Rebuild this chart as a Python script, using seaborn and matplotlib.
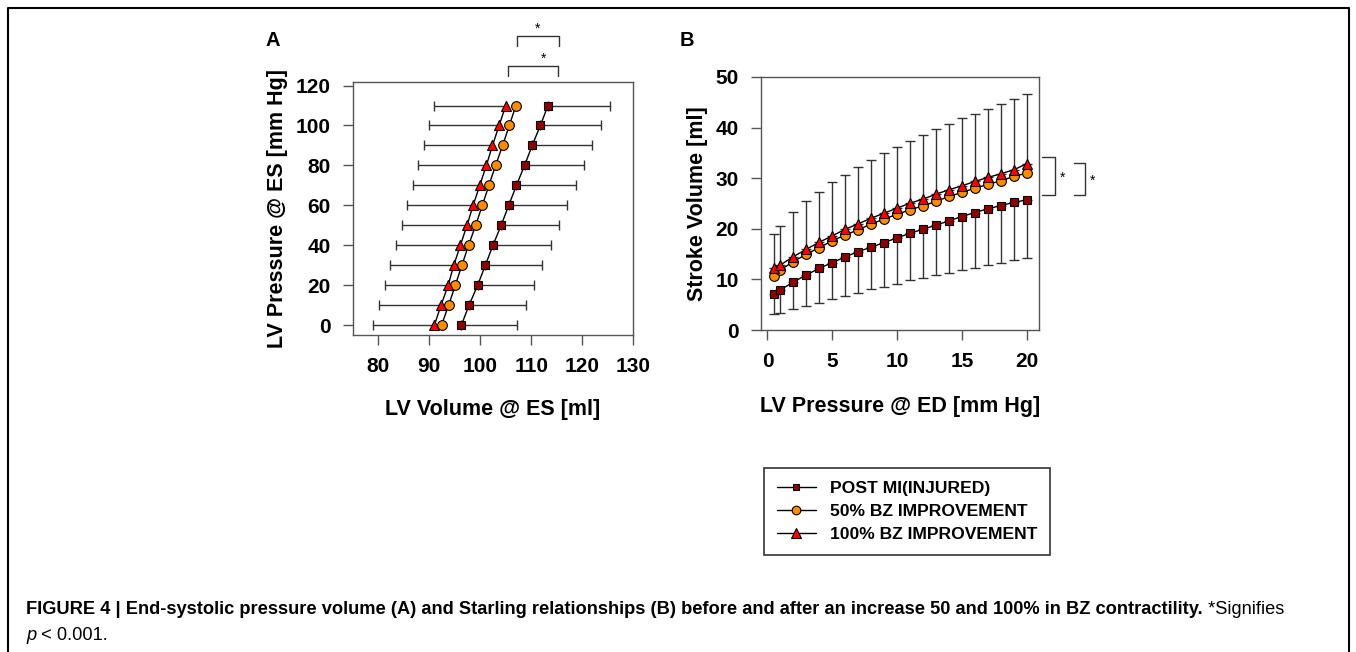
"""End-systolic pressure-volume and Starling relationships, post MI vs BZ improvement."""

import matplotlib

matplotlib.use("Agg")
import matplotlib.pyplot as plt
import pandas as pd
import seaborn as sns
from matplotlib.lines import Line2D

# Panel A data: LV volume at end-systole for each pressure level
pressure_es = [0, 10, 20, 30, 40, 50, 60, 70, 80, 90, 100, 110]
vol_post_mi = [96.3, 97.8, 99.5, 101.0, 102.5, 104.1, 105.6, 107.1, 108.7, 110.2, 111.8, 113.3]
vol_post_mi_sd = [11.0, 11.1, 11.0, 11.2, 11.4, 11.4, 11.5, 11.7, 11.7, 11.8, 11.9, 12.1]
vol_bz50 = [92.4, 93.8, 95.1, 96.4, 97.7, 99.1, 100.4, 101.7, 103.0, 104.4, 105.7, 107.0]
vol_bz100 = [91.0, 92.3, 93.7, 94.8, 96.1, 97.4, 98.6, 99.9, 101.2, 102.4, 103.7, 105.0]
vol_bz100_sd = [12.0, 12.2, 12.5, 12.5, 12.7, 12.8, 13.0, 13.2, 13.4, 13.5, 13.7, 14.0]

# Panel B data: stroke volume vs end-diastolic pressure
pressure_ed = [0.5, 1, 2, 3, 4, 5, 6, 7, 8, 9, 10, 11, 12, 13, 14, 15, 16, 17, 18, 19, 20]
sv_post_mi = [7.06, 7.92, 9.5, 10.88, 12.2, 13.32, 14.45, 15.5, 16.36, 17.28, 18.2,
              19.13, 19.92, 20.71, 21.57, 22.43, 23.22, 23.94, 24.6, 25.2, 25.73]
sv_post_mi_sd = [3.89, 4.62, 5.41, 6.06, 6.79, 7.25, 7.72, 8.18, 8.31, 8.70, 9.03,
                 9.30, 9.63, 9.89, 10.22, 10.56, 10.88, 11.08, 11.28, 11.35, 11.48]
sv_bz50 = [10.69, 11.87, 13.52, 14.97, 16.29, 17.61, 18.8, 19.79, 20.98, 21.9, 22.89,
           23.75, 24.54, 25.4, 26.39, 27.18, 28.03, 28.76, 29.49, 30.34, 31.0]
sv_bz100 = [12.2, 12.86, 14.5, 15.96, 17.35, 18.6, 19.92, 20.98, 22.1, 23.09, 24.08,
            25.07, 25.86, 26.85, 27.7, 28.5, 29.35, 30.15, 30.87, 31.66, 32.85]
sv_bz100_sd = [6.86, 7.79, 8.78, 9.57, 10.02, 10.56, 10.75, 11.21, 11.48, 11.80, 12.07,
               12.27, 12.66, 12.86, 13.0, 13.32, 13.39, 13.58, 13.85, 13.99, 13.72]

groups = ["POST MI(INJURED)", "50% BZ IMPROVEMENT", "100% BZ IMPROVEMENT"]
group_markers = {groups[0]: "s", groups[1]: "o", groups[2]: "^"}
group_colors = {groups[0]: "#8B0000", groups[1]: "#FF8C00", groups[2]: "#FF0000"}
group_msize = {groups[0]: 5.6, groups[1]: 7.0, groups[2]: 7.4}

caption_bold = ("FIGURE 4 | End-systolic pressure volume (A) and Starling relationships (B) "
                "before and after an increase 50 and 100% in BZ contractility.")

# Long-form tables
df_a = pd.concat([
    pd.DataFrame({"volume": vol_post_mi, "pressure": pressure_es, "group": groups[0]}),
    pd.DataFrame({"volume": vol_bz50, "pressure": pressure_es, "group": groups[1]}),
    pd.DataFrame({"volume": vol_bz100, "pressure": pressure_es, "group": groups[2]}),
])
df_b = pd.concat([
    pd.DataFrame({"ped": pressure_ed, "sv": sv_post_mi, "group": groups[0]}),
    pd.DataFrame({"ped": pressure_ed, "sv": sv_bz50, "group": groups[1]}),
    pd.DataFrame({"ped": pressure_ed, "sv": sv_bz100, "group": groups[2]}),
])

sns.set_style("white")
plt.rcParams["font.family"] = ["Liberation Sans", "DejaVu Sans"]
plt.rcParams["text.color"] = "black"
plt.rcParams["axes.labelcolor"] = "black"
plt.rcParams["xtick.color"] = "black"
plt.rcParams["ytick.color"] = "black"

W, H = 1356, 652
fig = plt.figure(figsize=(W / 100, H / 100), dpi=100)


def px_axes(left, top, right, bottom):
    return fig.add_axes([left / W, 1 - bottom / H, (right - left) / W, (bottom - top) / H])


ax_a = px_axes(353, 82, 633, 335)
ax_b = px_axes(761, 77, 1039, 330)

err_kw = dict(fmt="none", ecolor="#333333", elinewidth=1.0, capsize=3.3, capthick=1.0, zorder=1)

# Panel A error bars (one-sided)
ax_a.errorbar(vol_post_mi, pressure_es, xerr=[[0] * len(vol_post_mi), vol_post_mi_sd], **err_kw)
ax_a.errorbar(vol_bz100, pressure_es, xerr=[vol_bz100_sd, [0] * len(vol_bz100)], **err_kw)

# Panel B error bars (one-sided)
ax_b.errorbar(pressure_ed, sv_bz100, yerr=[[0] * len(sv_bz100), sv_bz100_sd], **err_kw)
ax_b.errorbar(pressure_ed, sv_post_mi, yerr=[sv_post_mi_sd, [0] * len(sv_post_mi)], **err_kw)

for g in groups:
    sub = df_a[df_a["group"] == g]
    sns.lineplot(data=sub, x="volume", y="pressure", ax=ax_a, sort=False, errorbar=None,
                 color="black", linewidth=1.0, marker=group_markers[g],
                 markersize=group_msize[g], markerfacecolor=group_colors[g],
                 markeredgecolor="black", markeredgewidth=0.8, legend=False, zorder=3)
    sub = df_b[df_b["group"] == g]
    sns.lineplot(data=sub, x="ped", y="sv", ax=ax_b, sort=False, errorbar=None,
                 color="black", linewidth=1.0, marker=group_markers[g],
                 markersize=group_msize[g], markerfacecolor=group_colors[g],
                 markeredgecolor="black", markeredgewidth=0.8, legend=False, zorder=3)

# Axes styling
ax_a.set_xlim(75, 130)
ax_a.set_ylim(-5, 121.8)
ax_a.set_xticks([80, 90, 100, 110, 120, 130])
ax_a.set_yticks([0, 20, 40, 60, 80, 100, 120])
ax_b.set_xlim(-0.5, 20.95)
ax_b.set_ylim(0, 50)
ax_b.set_xticks([0, 5, 10, 15, 20])
ax_b.set_yticks([0, 10, 20, 30, 40, 50])

for ax in (ax_a, ax_b):
    for sp in ax.spines.values():
        sp.set_visible(True)
        sp.set_color("#555555")
        sp.set_linewidth(1.0)
    ax.tick_params(axis="both", direction="out", length=7.5, width=1.0, color="#555555",
                   labelsize=15, labelcolor="black", bottom=True, left=True)
    ax.tick_params(axis="x", pad=8.5)
    ax.tick_params(axis="y", pad=8.5)
    for lab in ax.get_xticklabels() + ax.get_yticklabels():
        lab.set_fontweight("bold")
    ax.grid(False)

lab_kw = dict(fontsize=15.5, fontweight="bold", va="center", color="black")
ax_a.set_xlabel("LV Volume @ ES [ml]", **lab_kw)
ax_a.set_ylabel("LV Pressure @ ES [mm Hg]", **lab_kw)
ax_a.xaxis.set_label_coords(0.5, -0.296)
ax_a.yaxis.set_label_coords(-0.268, 0.5)
ax_b.set_xlabel("LV Pressure @ ED [mm Hg]", **lab_kw)
ax_b.set_ylabel("Stroke Volume [ml]", **lab_kw)
ax_b.xaxis.set_label_coords(0.5, -0.301)
ax_b.yaxis.set_label_coords(-0.230, 0.5)

# Panel letters
fig.text(273 / W, 1 - 41 / H, "A", fontsize=14.5, fontweight="bold", ha="center", va="center")
fig.text(687 / W, 1 - 41 / H, "B", fontsize=14.5, fontweight="bold", ha="center", va="center")

# Significance brackets
br_kw = dict(color="#333333", lw=1.0, clip_on=False)
ax_a.plot([107.3, 107.3, 115.5, 115.5], [139.9, 144.9, 144.9, 139.9], **br_kw)
ax_a.text(111.3, 148.5, "*", ha="center", va="center", fontsize=10, clip_on=False)
ax_a.plot([105.5, 105.5, 115.3, 115.3], [124.9, 130.0, 130.0, 124.9], **br_kw)
ax_a.text(112.5, 133.5, "*", ha="center", va="center", fontsize=10, clip_on=False)

ax_b.plot([21.2, 22.2, 22.2, 21.2], [34.2, 34.2, 26.6, 26.6], **br_kw)
ax_b.text(22.75, 30.0, "*", ha="center", va="center", fontsize=10, clip_on=False)
ax_b.plot([23.65, 24.5, 24.5, 23.65], [33.1, 33.1, 26.6, 26.6], **br_kw)
ax_b.text(25.05, 29.5, "*", ha="center", va="center", fontsize=10, clip_on=False)

# Legend
handles = [
    Line2D([], [], color="black", lw=1.0, marker=group_markers[g], markersize=group_msize[g] - 0.8,
           markerfacecolor=group_colors[g], markeredgecolor="black", markeredgewidth=0.8)
    for g in groups
]
leg = fig.legend(handles, groups, loc="upper left", bbox_to_anchor=(764 / W, 1 - 468 / H),
                 frameon=True, fancybox=False, edgecolor="#333333", framealpha=1,
                 prop={"weight": "bold", "size": 12.6}, handlelength=2.2, handletextpad=0.8,
                 labelspacing=0.43, borderpad=0.75, borderaxespad=0)
leg.get_frame().set_linewidth(1.2)

# Caption, fitted to the reference width
renderer = fig.canvas.get_renderer()
t1 = fig.text(26 / W, 1 - 609 / H, caption_bold, fontsize=11, fontweight="bold",
              ha="left", va="center")
w1 = t1.get_window_extent(renderer).width
t1.set_fontsize(11 * 1181 / w1)
cap_fs = t1.get_fontsize()
w1 = t1.get_window_extent(renderer).width
fig.text((26 + w1) / W, 1 - 609 / H, " *Signifies", fontsize=cap_fs, ha="left", va="center")
tp = fig.text(26 / W, 1 - 635 / H, "p", fontsize=cap_fs, style="italic", ha="left", va="center")
wp = tp.get_window_extent(renderer).width
fig.text((26 + wp) / W, 1 - 635 / H, " < 0.001.", fontsize=cap_fs, ha="left", va="center")

# Outer frame (open at the bottom)
fx0, fx1, fy1 = 8 / W, 1349 / W, 1 - 8 / H
fig.add_artist(Line2D([fx0, fx0, fx1, fx1], [0, fy1, fy1, 0], color="black", lw=1.5,
                      transform=fig.transFigure))

fig.savefig("out.png", dpi=100)
